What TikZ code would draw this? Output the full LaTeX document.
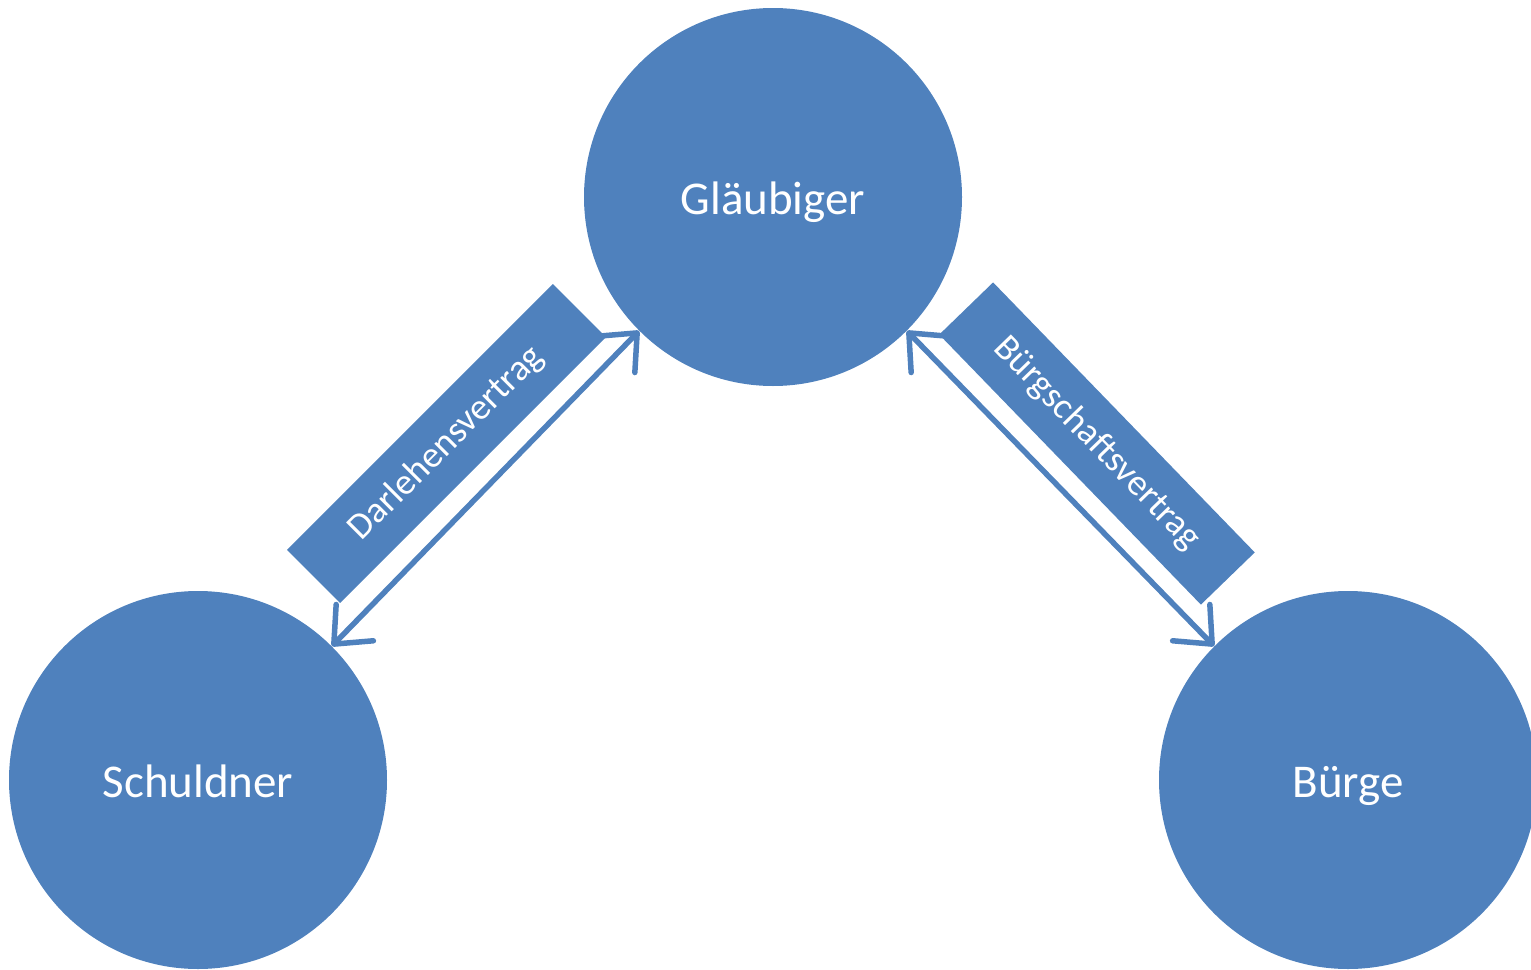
\documentclass[tikz,border=0pt]{standalone}
\usepackage{fontspec}
\setmainfont{Carlito}
\usetikzlibrary{arrows.meta}
\definecolor{accblue}{HTML}{4F81BD}
\tikzset{
  party/.style={circle, fill=accblue, draw=none, inner sep=0pt, minimum size=189pt, text=white, text height=17.2pt, text depth=0pt, font=\fontsize{23.5pt}{28pt}\selectfont},
  contract/.style={rectangle, fill=accblue, draw=none, inner sep=0pt, minimum width=188pt, minimum height=37.5pt, text=white, font=\fontsize{18.5pt}{22pt}\selectfont},
  relarrow/.style={draw=accblue, line width=2.75pt, {Straight Barb[round,length=15pt,width=26pt]}-{Straight Barb[round,length=15pt,width=26pt]}}
}
\begin{document}
\begin{tikzpicture}[x=0.5pt,y=-0.5pt]
\useasboundingbox (0,0) rectangle (1531,969);
\node[party] (g) at (773,197) {Gläubiger};
\node[party] (s) at (198,780) {Schuldner};
\node[party] (b) at (1348,780) {Bürge};
\node[contract, rotate=45] (dv) at (446.5,443.5) {Darlehensvertrag};
\node[contract, rotate=-45.9] (bv) at (1097,443.5) {Bürgschaftsvertrag};
\draw[relarrow] (s.45) -- (g.225);
\draw[relarrow] (g.-45) -- (b.135);
\end{tikzpicture}
\end{document}
